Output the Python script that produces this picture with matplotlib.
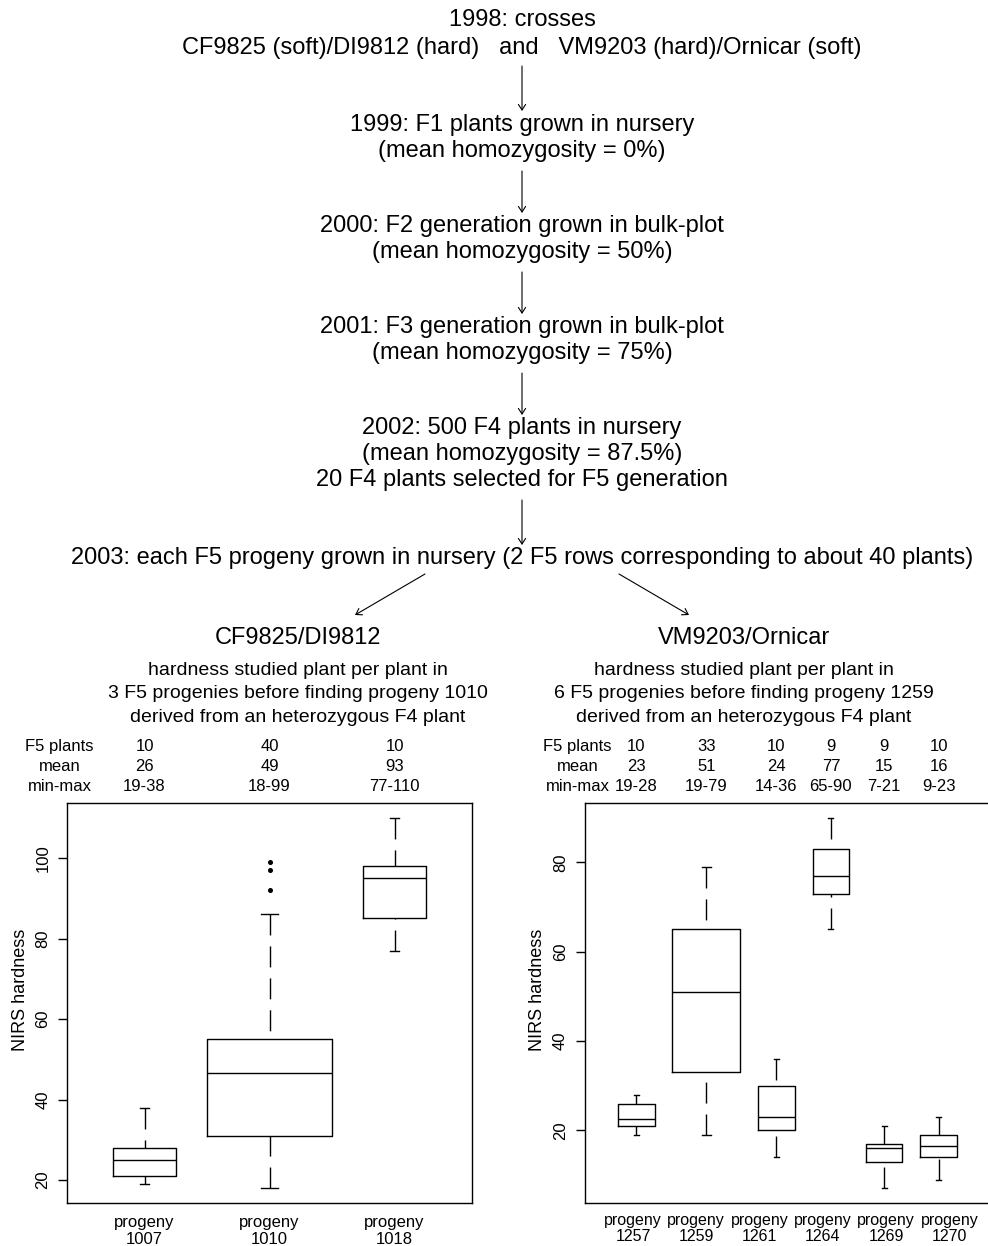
import matplotlib
matplotlib.use("Agg")
from matplotlib import pyplot as plt
from matplotlib.patches import FancyArrowPatch
from matplotlib.transforms import blended_transform_factory
import numpy as np

plt.rcParams["font.family"] = ["Liberation Sans", "DejaVu Sans"]

W, H = 988, 1246  # output size in pixels (dpi 100)

# ---- flow chart text ----
flow_head = ["1998: crosses",
             "CF9825 (soft)/DI9812 (hard)   and   VM9203 (hard)/Ornicar (soft)"]
flow_steps = [
    ["1999: F1 plants grown in nursery", "(mean homozygosity = 0%)"],
    ["2000: F2 generation grown in bulk-plot", "(mean homozygosity = 50%)"],
    ["2001: F3 generation grown in bulk-plot", "(mean homozygosity = 75%)"],
    ["2002: 500 F4 plants in nursery", "(mean homozygosity = 87.5%)",
     "20 F4 plants selected for F5 generation"],
]
flow_last = "2003: each F5 progeny grown in nursery (2 F5 rows corresponding to about 40 plants)"

# ---- left panel: CF9825/DI9812 ----
left_title = "CF9825/DI9812"
left_sub = ["hardness studied plant per plant in",
            "3 F5 progenies before finding progeny 1010",
            "derived from an heterozygous F4 plant"]
left_progeny = ["1007", "1010", "1018"]
left_n = [10, 40, 10]
left_mean = [26, 49, 93]
left_minmax = ["19-38", "18-99", "77-110"]
left_whislo = [19, 18, 77]
left_q1 = [21, 31, 85]
left_med = [25, 46.5, 95]
left_q3 = [28, 55, 98]
left_whishi = [38, 86, 110]
left_fliers = [[], [92, 97, 99], []]

# ---- right panel: VM9203/Ornicar ----
right_title = "VM9203/Ornicar"
right_sub = ["hardness studied plant per plant in",
             "6 F5 progenies before finding progeny 1259",
             "derived from an heterozygous F4 plant"]
right_progeny = ["1257", "1259", "1261", "1264", "1269", "1270"]
right_n = [10, 33, 10, 9, 9, 10]
right_mean = [23, 51, 24, 77, 15, 16]
right_minmax = ["19-28", "19-79", "14-36", "65-90", "7-21", "9-23"]
right_whislo = [19, 19, 14, 65, 7, 9]
right_q1 = [21, 33, 20, 73, 13, 14]
right_med = [22.5, 51, 23, 77, 16, 16.5]
right_q3 = [26, 65, 30, 83, 17, 19]
right_whishi = [28, 79, 36, 90, 21, 23]
right_fliers = [[], [], [], [], [], []]

row_labels = ["F5 plants", "mean", "min-max"]

# layout (box positions as placed in the original; right labels are evenly spaced)
left_pos = [1, 2, 3]
right_pos = [1, 2, 3.0, 3.78, 4.54, 5.32]
right_label_pos = [0.95, 1.855, 2.76, 3.665, 4.57, 5.475]
LW = 1.0

fig = plt.figure(figsize=(W / 100, H / 100), dpi=100)


def px_axes(x0, y0, x1, y1):
    "axes from pixel box (top-left origin)"
    return fig.add_axes([x0 / W, 1 - y1 / H, (x1 - x0) / W, (y1 - y0) / H])


def boxes(ax, pos, n, k, whislo, q1, med, q3, whishi, fliers):
    widths = [k * np.sqrt(v) for v in n]
    stats = [dict(whislo=a, q1=b, med=c, q3=d, whishi=e, fliers=f)
             for a, b, c, d, e, f in zip(whislo, q1, med, q3, whishi, fliers)]
    art = ax.bxp(stats, positions=pos, widths=widths,
                 capwidths=[0.14 * w for w in widths], manage_ticks=False,
                 boxprops=dict(color="black", lw=LW),
                 medianprops=dict(color="black", lw=LW),
                 whiskerprops=dict(color="black", lw=LW, linestyle=(0, (15.1, 7.9))),
                 capprops=dict(color="black", lw=LW),
                 flierprops=dict(marker="o", markersize=2.6, markerfacecolor="black",
                                 markeredgecolor="black"))
    # dash pattern starts at the whisker end, as in R
    for line in art["whiskers"]:
        line.set_data(line.get_xdata()[::-1], line.get_ydata()[::-1])


def style(ax, pos, progeny, yticks, lab_x, xlab_size, pad, ls):
    ax.set_xticks(pos, ["progeny\n" + p for p in progeny])
    ax.tick_params(axis="x", length=0, pad=pad, labelsize=xlab_size)
    for t in ax.get_xticklabels():
        t.set_linespacing(ls)
    ax.set_yticks(yticks)
    ax.tick_params(axis="y", length=6.5, width=LW, pad=5.5, labelsize=12, labelrotation=90)
    for t in ax.get_yticklabels():
        t.set_va("center")
    for s in ax.spines.values():
        s.set_linewidth(LW)
    ax.set_ylabel("NIRS hardness", fontsize=13, va="center")
    ax.yaxis.set_label_coords(lab_x, 0.532)


ax1 = px_axes(67, 803, 472, 1203)
boxes(ax1, left_pos, left_n, 0.1581, left_whislo, left_q1, left_med, left_q3,
      left_whishi, left_fliers)
ax1.set_xlim(0.38, 3.62)
ax1.set_ylim(14.32, 113.68)
style(ax1, left_pos, left_progeny, [20, 40, 60, 80, 100], (20 - 67) / 405, 12, 8.5, 1.15)

ax2 = px_axes(584.7, 803, 1038, 1203.3)
boxes(ax2, right_pos, right_n, 0.169, right_whislo, right_q1, right_med, right_q3,
      right_whishi, right_fliers)
ax2.set_xlim(0.26, 6.74)
ax2.set_ylim(3.68, 93.32)
style(ax2, right_label_pos, right_progeny, [20, 40, 60, 80], (537.8 - 584.7) / 453.3,
      11.5, 7, 1.1)

# overlay in pixel coordinates for the flow chart and annotations
ov = fig.add_axes([0, 0, 1, 1])
ov.set_xlim(0, W)
ov.set_ylim(H, 0)
ov.axis("off")

CX = 522
FS = 17
LSP = 26


def arrow(x0, y0, x1, y1):
    ov.add_patch(FancyArrowPatch((x0, y0), (x1, y1), arrowstyle="->,head_length=4,head_width=2.6",
                                 lw=0.8, color="black", shrinkA=0, shrinkB=0, mutation_scale=1))


ov.text(CX, 26, flow_head[0], ha="center", va="baseline", fontsize=FS)
ov.text(CX, 54, flow_head[1], ha="center", va="baseline", fontsize=FS)
arrow(CX, 66, CX, 111)
y = 131
for i, block in enumerate(flow_steps):
    for j, line in enumerate(block):
        ov.text(CX, y + LSP * j, line, ha="center", va="baseline", fontsize=FS)
    y_end = y + LSP * (len(block) - 1)
    nxt = y + 101 if i < len(flow_steps) - 1 else 564
    arrow(CX, y_end + 14, CX, nxt - 19)
    y = nxt
ov.text(CX, 564, flow_last, ha="center", va="baseline", fontsize=FS)
arrow(425, 574, 355, 615)
arrow(619, 574, 689, 615)

for cx, title, sub in [(298, left_title, left_sub), (744, right_title, right_sub)]:
    ov.text(cx, 644, title, ha="center", va="baseline", fontsize=FS)
    for j, line in enumerate(sub):
        ov.text(cx, 675 + 23.5 * j, line, ha="center", va="baseline", fontsize=14)

# summary tables above each plot
row_y = [751, 771, 791]
for ax, lab_x, pos, cols in [
    (ax1, 59.5, left_pos, [left_n, left_mean, left_minmax]),
    (ax2, 577.5, right_pos, [right_n, right_mean, right_minmax]),
]:
    tr = blended_transform_factory(ax.transData, ov.transData)
    for ry, lab, vals in zip(row_y, row_labels, cols):
        ov.text(lab_x, ry, lab, ha="center", va="baseline", fontsize=12)
        for p, v in zip(pos, vals):
            ax.text(p, ry, str(v), transform=tr, ha="center", va="baseline",
                    fontsize=12, clip_on=False)

fig.savefig("out.png", dpi=100)
